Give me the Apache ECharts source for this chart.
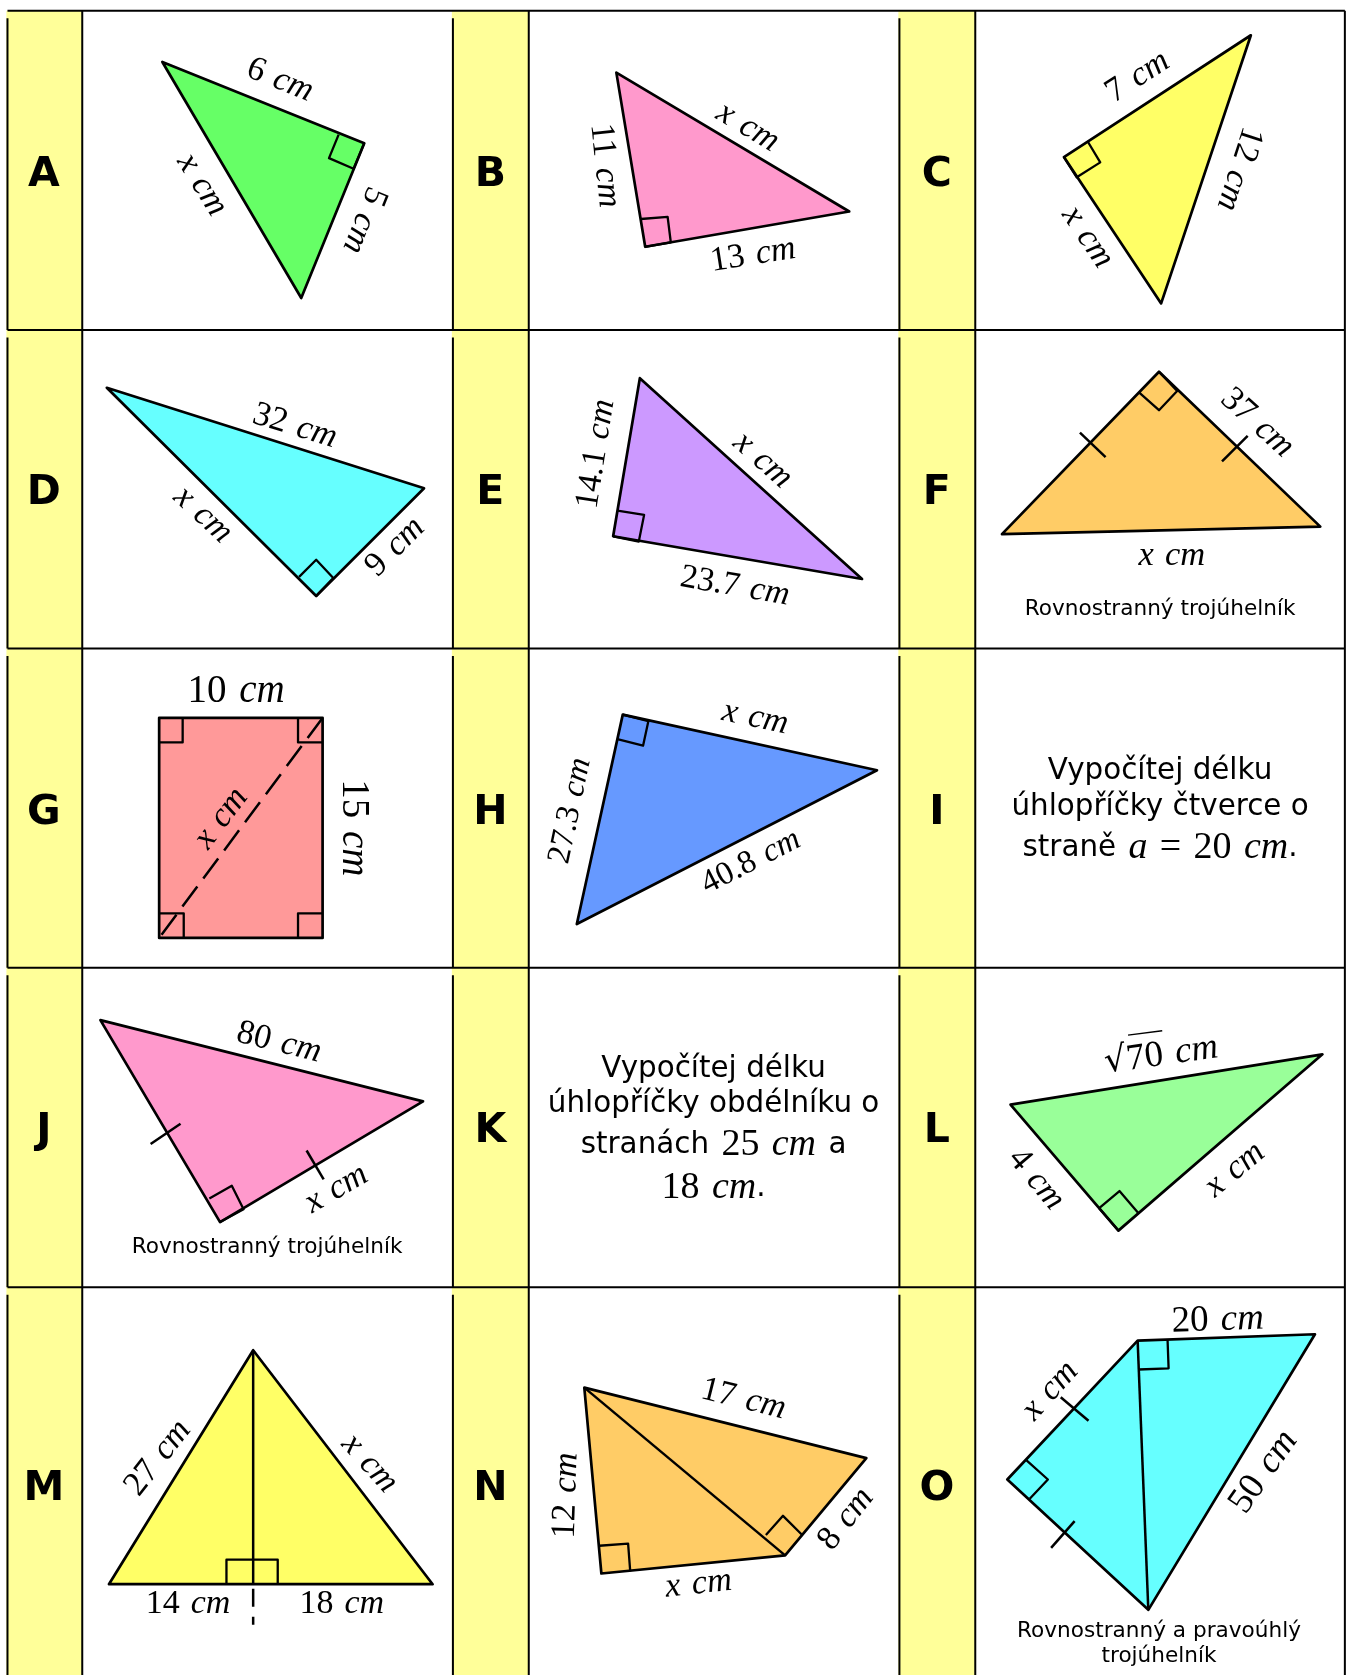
<!DOCTYPE html>
<html><head><meta charset="utf-8">
<style>html,body{margin:0;padding:0;background:#fff}#c{width:1347px;height:1675px}</style>
<script src="https://cdn.jsdelivr.net/npm/echarts@6/dist/echarts.min.js"></script>
</head><body><div id="c"></div>
<script>
// ---- values (chart units: 0..1261 by 0..1568) ----
const cardLetters = ['A','B','C','D','E','F','G','H','I','J','K','L','M','N','O'];
const columnEdges = [7, 77, 424, 495, 842, 913, 1259];
const rowEdges = [10, 309, 607, 906, 1205, 1568];

const figureA = [[152,58],[341,134],[282,279]];
const figureB = [[577,68],[795,198],[604,231]];
const figureC = [[1171,33],[996,147],[1087,284]];
const figureD = [[100,363],[397,457],[296,558]];
const figureE = [[599,354],[807,542],[574,502]];
const figureF = [[1085,348],[1236,493],[938,500]];
const figureG = [[149,672],[302,672],[302,878],[149,878]];
const figureH = [[583,669],[821,721],[540,865]];
const figureJ = [[94,955],[396,1031],[206,1144]];
const figureL = [[1238,987],[946,1034],[1047,1152]];
const figureM = [[237,1264],[405,1483],[102,1483]];
const figureN = [[547,1299],[811,1365],[735,1456],[563,1473]];
const figureO = [[1065,1255],[1231,1249],[1075,1507],[943,1385]];
const figures = [figureA,figureB,figureC,figureD,figureE,figureF,figureG,figureH,figureJ,figureL,figureM,figureN,figureO];

const rightAngles = [
 [[317,126],[308,148],[331,158],[341,134]],
 [[600,205],[625,203],[628,227],[604,231]],
 [[1018,132],[1030,152],[1008,166],[996,147]],
 [[280,540],[296,524],[312,541],[296,558]],
 [[578,478],[603,482],[598,507],[574,502]],
 [[1085,348],[1102,366],[1085,384],[1066,367]],
 [[149,695],[171,695],[171,672]],
 [[279,672],[279,695],[302,695]],
 [[149,855],[172,855],[172,878]],
 [[279,878],[279,855],[302,855]],
 [[583,669],[607,675],[602,698],[578,692]],
 [[196,1122],[217,1110],[228,1132],[206,1144]],
 [[1047,1152],[1029,1131],[1048,1115],[1066,1136]],
 [[212,1483],[212,1460],[260,1460],[260,1483]],
 [[561,1447],[588,1445],[590,1471]],
 [[717,1437],[733,1419],[751,1437]],
 [[1093,1254],[1094,1281],[1066,1282]],
 [[961,1367],[981,1385],[964,1403]]
];
const solidSegments = [
 [[1011,405],[1035,428]],[[1168,408],[1144,432]],
 [[141,1071],[169,1052]],[[287,1077],[303,1104]],
 [[237,1264],[237,1483]],
 [[547,1299],[735,1456]],
 [[993,1308],[1019,1330]],[[1006,1424],[984,1449]],
 [[1065,1255],[1075,1507]]
];
const dashedSegments = [
 [[149,878],[302,672]],
 [[237,1483],[237,1521]]
];
const radicalBars = [[[1056,969],[1088,965]]];

const measureTexts = [
 '6 cm','x cm','5 cm',
 'x cm','11 cm','13 cm',
 '7 cm','12 cm','x cm',
 '32 cm','x cm','9 cm',
 '14.1 cm','x cm','23.7 cm',
 '37 cm','x cm',
 '10 cm','15 cm','x cm',
 'x cm','27.3 cm','40.8 cm',
 '80 cm','x cm','√70 cm','4 cm','x cm',
 '27 cm','x cm','14 cm','18 cm',
 '17 cm','12 cm','8 cm','x cm',
 '20 cm','x cm','50 cm'];
const noteTexts = ['Rovnostranný trojúhelník','Rovnostranný trojúhelník','Rovnostranný a pravoúhlý','trojúhelník'];
const taskLines = ['Vypočítej délku','úhlopříčky čtverce o','straně a = 20 cm.','Vypočítej délku','úhlopříčky obdélníku o','stranách 25 cm a','18 cm.'];

// ---- layout: [x, y, clockwise degrees, font px] for each measure ----
const measureLayout = [
 [262,75,22,34.5],[189,173,58,34.5],[341,206,112,34.5],
 [700,119,31,34.5],[566,155,84,34.5],[705,239,-9,34.5],
 [1065,72,-33,34.5],[1160,158,108,34.5],[1018,222,56,34.5],
 [276,399,17,34.5],[190,482,43,34.5],[370,512,-45,34.5],
 [558,425,-81,34],[714,431,42,34.5],[688,549,10,34],
 [1177,396,42,34.5],[1097,520,0,34.5],
 [221,648,0,39],[331,775,90,39],[207,766,-53,34.5],
 [707,672,12,34.5],[534,759,-78,33],[703,807,-27,33],
 [261,976,14,34.5],[315,1113,-30,34.5],[1087,988,-8,37],[970,1104,50,34.5],[1156,1095,-40,34.5],
 [148,1365,-52,34.5],[346,1370,48,34.5],[176,1502,0,34],[320,1502,0,34],
 [696,1310,14,34.5],[530,1400,-88,34.5],[792,1422,-52,34.5],[654,1483,-6,34.5],
 [1140,1236,-2,37],[983,1302,-48,34.5],[1183,1378,-55,37]
];
const figureColours = ['#66FF66','#FF99CC','#FFFF66','#66FFFF','#CC99FF','#FFCC66','#FF9999','#6699FF','#FF99CC','#99FF99','#FFFF66','#FFCC66','#66FFFF'];
const dashPatterns = [[25,10],[18,10]];
const dashOffsets = [-4,-4.5];
const notePlaces = [[1086,570],[250,1168],[1085,1527],[1085,1551]];
const taskPlaces = [[1086,722],[1086,756],[1086,794],[668,1001],[668,1034],[668,1072],[668,1112]];
const letterCentresX = [41,459,877];
const letterCentresY = [164,462,761,1059,1394];

const MATH = '"Liberation Serif"', SANS = '"DejaVu Sans"';
function markup(t){
  return t.replace(/(\bcm\b|\bx\b|(?<=straně )a\b)|([0-9.]*[0-9]|=)|(√)|( (?=[\dax=c√])|(?<=[\dm=a]) )/g,
    (m,it,nu,ra,sp)=> it ? '{i|'+m+'}' : nu ? '{n|'+m+'}' : ra ? '{r|'+m+'}' : '{s| }');
}
function poly(api, pts, style, closed){
  const p = pts.map(q => api.coord(q));
  return {type: closed ? 'polygon' : 'polyline', shape:{points:p}, style};
}
function customSeries(list, z, render){
  return {type:'custom', coordinateSystem:'cartesian2d', silent:true, animation:false, z,
    clip:false, data:list.map((_,i)=>[i,i]), encode:{x:0,y:1}, renderItem:(params,api)=>render(list[params.dataIndex],params.dataIndex,api)};
}
const stroke = {stroke:'#000',lineWidth:2.7,lineJoin:'round',lineCap:'butt'};
function textEl(api,x,y,text,rot,style){
  const p = api.coord([x,y]);
  return {type:'text',x:p[0],y:p[1],rotation:-rot*Math.PI/180,style:Object.assign({text,align:'center',verticalAlign:'middle',fill:'#000'},style)};
}
function mathRich(fs){ return {
  n:{fontFamily:MATH,fontSize:fs,fill:'#000'},
  s:{fontFamily:MATH,fontSize:fs*1.3,fill:'#000'},
  r:{fontFamily:'"DejaVu Serif"',fontSize:fs*0.95,fill:'#000'},
  i:{fontFamily:MATH,fontStyle:'italic',fontSize:fs,fill:'#000'}};
}
const series = [];
// cards
const cards=[]; for(let r=0;r<5;r++)for(let c=0;c<3;c++)cards.push([c,r]);
series.push(customSeries(cards,1,(cell,i,api)=>{
  const [c,r]=cell, x0=columnEdges[c*2]-1,x1=columnEdges[c*2+1],y0=rowEdges[r],y1=rowEdges[r+1];
  const a=api.coord([x0,y0]),b=api.coord([x1,y1]);
  return {type:'rect',shape:{x:a[0],y:a[1],width:b[0]-a[0],height:b[1]-a[1]},style:{fill:'#FFFF99'}};
}));
// rules: the left edge of each yellow strip starts a little below the row's top rule
const rules=[];
[1,3,5,6].forEach(k=>rules.push([[columnEdges[k],10],[columnEdges[k],1568]]));
[0,2,4].forEach(k=>rowEdges.slice(0,5).forEach((y,r)=>rules.push([[columnEdges[k],y+7],[columnEdges[k],rowEdges[r+1]]])));
rowEdges.slice(0,5).forEach(y=>rules.push([[7,y],[1259,y]]));
series.push(customSeries(rules,2,(seg,i,api)=>poly(api,seg,{stroke:'#000',lineWidth:2,fill:null},false)));
// figures
series.push(customSeries(figures,3,(pts,i,api)=>poly(api,pts,Object.assign({fill:figureColours[i]},stroke),true)));
series.push(customSeries(rightAngles,4,(pts,i,api)=>poly(api,pts,Object.assign({fill:null},stroke,{lineWidth:2.3}),false)));
series.push(customSeries(solidSegments,4,(pts,i,api)=>poly(api,pts,Object.assign({fill:null},stroke,{lineWidth:2.5}),false)));
series.push(customSeries(dashedSegments,4,(pts,i,api)=>poly(api,pts,Object.assign({fill:null},stroke,{lineWidth:2.5,lineDash:dashPatterns[i],lineDashOffset:dashOffsets[i]}),false)));
series.push(customSeries(radicalBars,4,(pts,i,api)=>poly(api,pts,Object.assign({fill:null},stroke,{lineWidth:1.5}),false)));
// letters
const letterRows=cardLetters.map((t,i)=>[t,letterCentresX[i%3],letterCentresY[Math.floor(i/3)]]);
series.push(customSeries(letterRows,5,(row,i,api)=>textEl(api,row[1],row[2],row[0],0,{font:'bold 41px '+SANS})));
// measures
series.push(customSeries(measureTexts,5,(t,i,api)=>{
  const [x,y,r,fs]=measureLayout[i];
  return textEl(api,x,y,markup(t),r,{fontFamily:MATH,fontSize:fs,rich:mathRich(fs)});
}));
// notes
series.push(customSeries(noteTexts,5,(t,i,api)=>textEl(api,notePlaces[i][0],notePlaces[i][1],t,0,{font:'21.6px '+SANS})));
// tasks
series.push(customSeries(taskLines,5,(t,i,api)=>textEl(api,taskPlaces[i][0],taskPlaces[i][1],markup(t),0,{
  fontFamily:SANS,fontSize:29.4,rich:mathRich(38)})));

const chart = echarts.init(document.getElementById('c'),null,{renderer:'canvas'});
chart.setOption({
  animation:false,
  grid:{left:0,right:0,top:0,bottom:0},
  xAxis:{type:'value',min:0,max:1261,show:false},
  yAxis:{type:'value',min:0,max:1568,inverse:true,show:false},
  series
});
</script></body></html>
